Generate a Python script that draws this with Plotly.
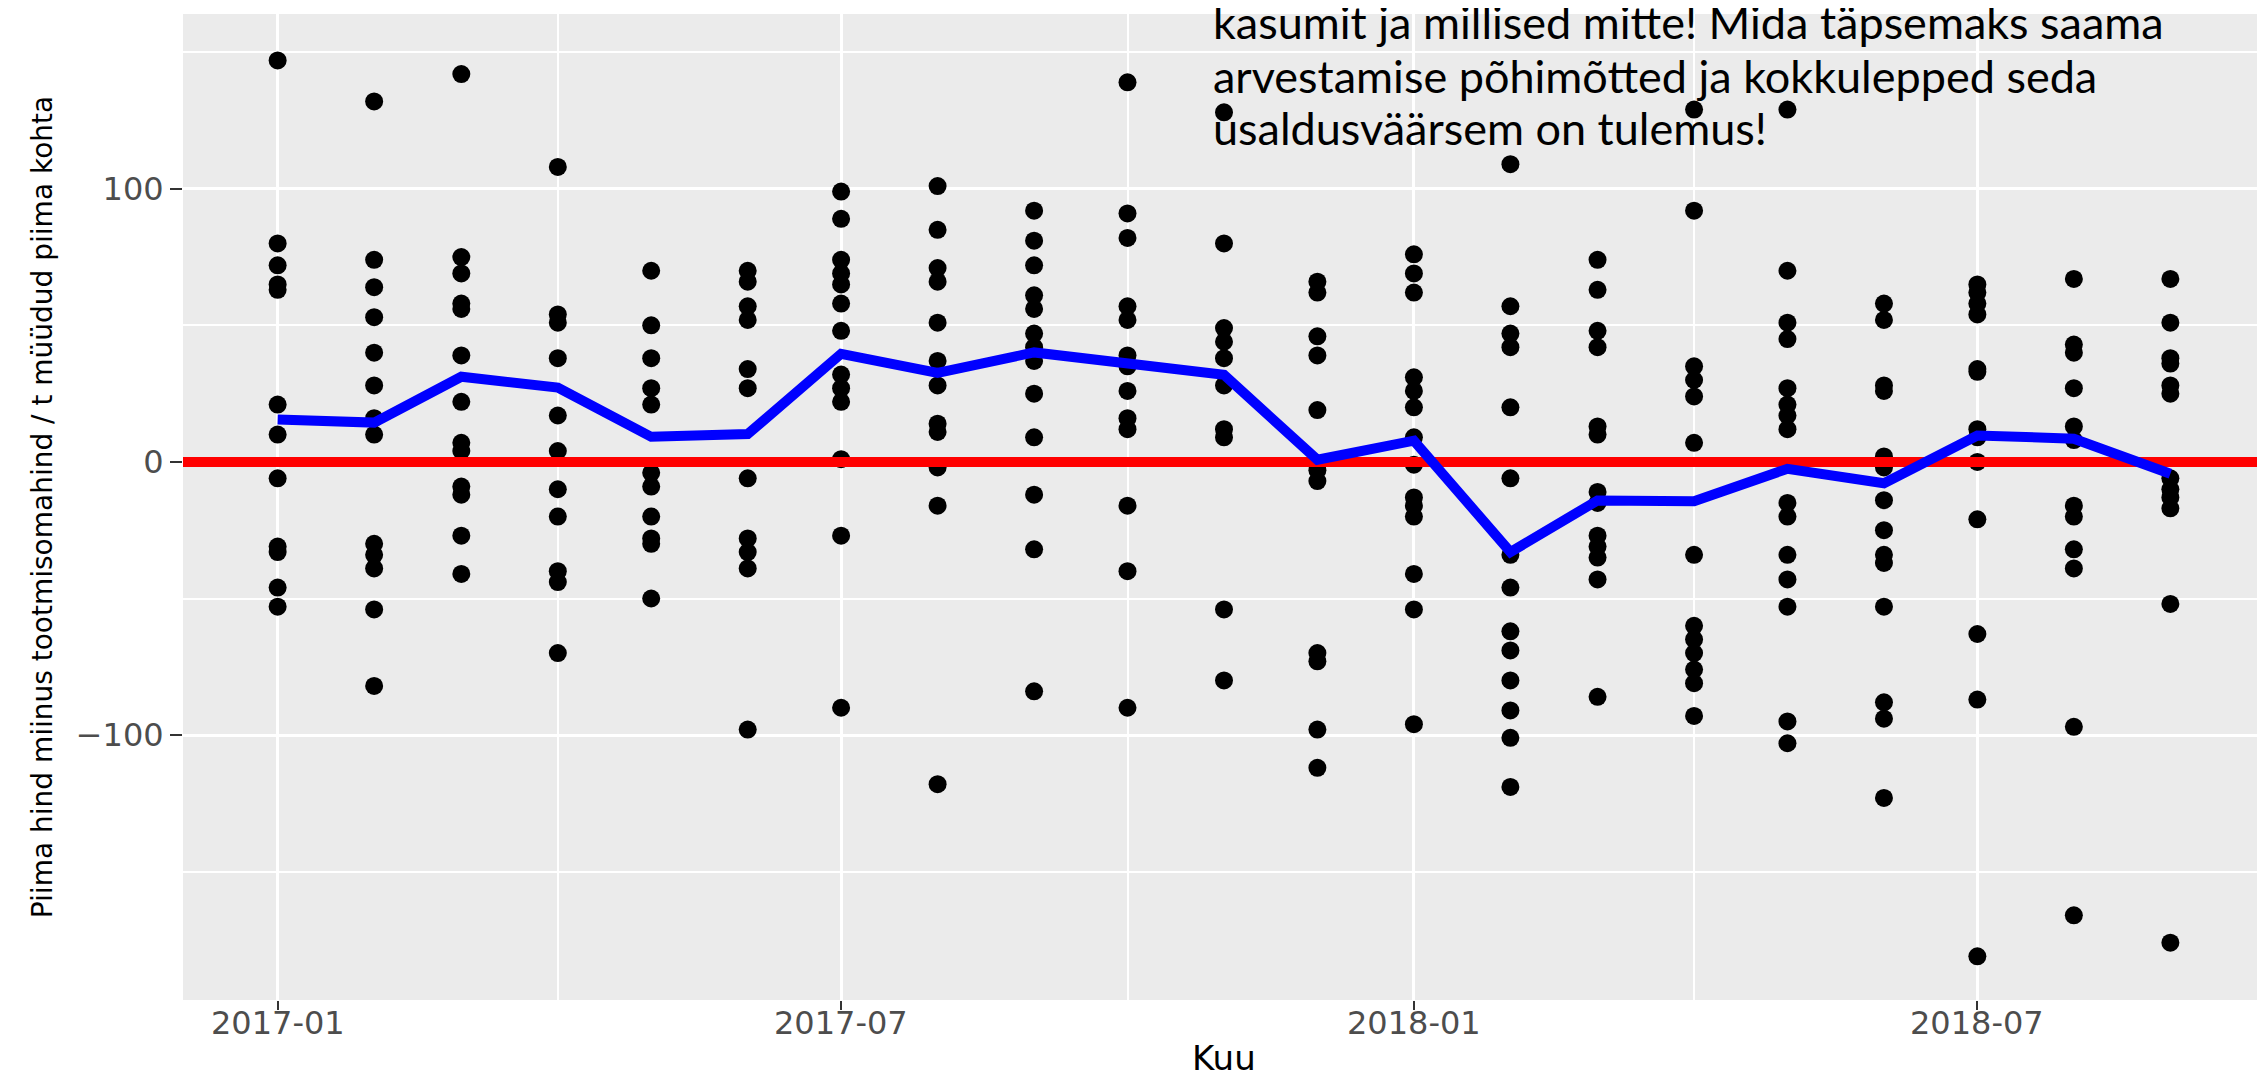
import pandas as pd
import plotly.graph_objects as go

months = ["2017-01-01", "2017-02-01", "2017-03-01", "2017-04-01", "2017-05-01", "2017-06-01",
          "2017-07-01", "2017-08-01", "2017-09-01", "2017-10-01", "2017-11-01", "2017-12-01",
          "2018-01-01", "2018-02-01", "2018-03-01", "2018-04-01", "2018-05-01", "2018-06-01",
          "2018-07-01", "2018-08-01", "2018-09-01"]

values_by_month = [
    [147, 80, 72, 65, 63, 21, 10, -6, -31, -33, -46, -53],
    [132, 74, 64, 53, 40, 28, 16, 10, -30, -34, -39, -54, -82],
    [142, 75, 69, 58, 56, 39, 22, 7, 4, -9, -12, -27, -41],
    [108, 54, 51, 38, 17, 4, -10, -20, -40, -44, -70],
    [70, 50, 38, 27, 21, -4, -9, -20, -28, -30, -50],
    [70, 66, 57, 52, 34, 27, -6, -28, -33, -39, -98],
    [99, 89, 74, 69, 65, 58, 48, 32, 27, 22, 1, -27, -90],
    [101, 85, 71, 66, 51, 37, 28, 14, 11, -2, -16, -118],
    [92, 81, 72, 61, 56, 47, 42, 37, 25, 9, -12, -32, -84],
    [139, 91, 82, 57, 52, 39, 35, 26, 16, 12, -16, -40, -90],
    [128, 80, 49, 44, 38, 28, 12, 9, -54, -80],
    [66, 62, 46, 39, 19, -3, -7, -70, -73, -98, -112],
    [76, 69, 62, 31, 26, 20, 9, -1, -13, -16, -20, -41, -54, -96],
    [109, 57, 47, 42, 20, -6, -34, -46, -62, -69, -80, -91, -101, -119],
    [74, 63, 48, 42, 13, 10, -11, -15, -27, -31, -35, -43, -86],
    [129, 92, 35, 30, 24, 7, -34, -60, -65, -70, -76, -81, -93],
    [129, 70, 51, 45, 27, 21, 17, 12, -15, -20, -34, -43, -53, -95, -103],
    [58, 52, 28, 26, 2, -2, -14, -25, -34, -37, -53, -88, -94, -123],
    [65, 62, 58, 54, 34, 33, 12, 9, 0, -21, -63, -87, -181],
    [67, 43, 40, 27, 13, 8, -16, -20, -32, -39, -97, -166],
    [67, 51, 38, 36, 28, 25, -6, -10, -13, -17, -52, -176],
]

mean_line = [15.5, 14.4, 31.2, 27.2, 9.2, 10.2, 39.6, 32.6, 40.1, 36.3, 31.9, 0.8,
             7.8, -33.0, -14.1, -14.4, -2.5, -7.8, 9.7, 8.5, -4.3]

y_ticks = [-100, 0, 100]
x_tick_dates = ["2017-01-01", "2017-07-01", "2018-01-01", "2018-07-01"]
x_tick_labels = ["2017-01", "2017-07", "2018-01", "2018-07"]

note_lines = ["kasumit ja millised mitte! Mida täpsemaks saama",
              "arvestamise põhimõtted ja kokkulepped seda",
              "usaldusväärsem on tulemus!"]

y_title = "Piima hind miinus tootmisomahind / t müüdud piima kohta"
x_title = "Kuu"

# figure geometry (pixels)
W, H = 2265, 1078
PL, PR, PT, PB = 175, 2257, 6, 992
ph = PB - PT

def paper_y(py):
    return (PB - py) / ph

# expand like ggplot (5%)
dates = pd.to_datetime(months)
span = dates.max() - dates.min()
x_lo = dates.min() - span * 0.05
x_hi = dates.max() + span * 0.05

pts_x, pts_y = [], []
for m, vals in zip(months, values_by_month):
    for v in vals:
        pts_x.append(m)
        pts_y.append(v)

fig = go.Figure()
fig.add_trace(go.Scatter(x=pts_x, y=pts_y, mode="markers",
                         marker=dict(color="black", size=18, line=dict(width=0)),
                         showlegend=False, hoverinfo="x+y"))
fig.add_trace(go.Scatter(x=[x_lo, x_hi], y=[0, 0], mode="lines",
                         line=dict(color="#FF0000", width=10), showlegend=False, hoverinfo="skip"))
fig.add_trace(go.Scatter(x=months, y=mean_line, mode="lines",
                         line=dict(color="#0000FF", width=10), showlegend=False))

tick_font = dict(family="DejaVu Sans", size=32, color="#4D4D4D")

annotations = []
# x tick labels
for d, lab in zip(x_tick_dates, x_tick_labels):
    annotations.append(dict(text=lab, xref="x", yref="paper", x=d, y=paper_y(1015),
                            xanchor="center", yanchor="middle", showarrow=False, font=tick_font))
# x axis title
annotations.append(dict(text=x_title, xref="paper", yref="paper", x=0.5, y=paper_y(1050),
                        xanchor="center", yanchor="middle", showarrow=False,
                        font=dict(family="DejaVu Sans", size=34, color="black")))
# overlay note, one line per annotation
note_fs = 45
for i, line in enumerate(note_lines):
    baseline = 37 + 53 * i
    annotations.append(dict(text=line, xref="paper", yref="paper",
                            x=(1203 - PL) / (PR - PL), y=paper_y(baseline - 0.5 * note_fs),
                            xanchor="left", yanchor="middle", align="left", showarrow=False,
                            font=dict(family="Lato", size=note_fs, color="black")))

fig.update_layout(
    width=W, height=H,
    margin=dict(l=PL, r=W - PR, t=PT, b=H - PB, autoexpand=False),
    paper_bgcolor="white", plot_bgcolor="#EBEBEB",
    xaxis=dict(type="date", range=[x_lo, x_hi], tickvals=x_tick_dates, ticktext=x_tick_labels,
               showticklabels=False,
               ticks="outside", ticklen=9, tickwidth=2, tickcolor="#333333",
               showgrid=True, gridcolor="white", gridwidth=3,
               minor=dict(dtick="M3", tick0="2017-01-01", showgrid=True, gridcolor="white", gridwidth=1.5),
               zeroline=False, showline=False, automargin=False),
    yaxis=dict(range=[-197, 164], tickvals=y_ticks, ticktext=[str(v).replace("-", "\u2212") for v in y_ticks],
               ticks="outside", ticklen=12, tickwidth=2, tickcolor="#333333",
               tickfont=tick_font, showgrid=True, gridcolor="white", gridwidth=3,
               minor=dict(dtick=50, tick0=0, showgrid=True, gridcolor="white", gridwidth=1.5),
               zeroline=False, showline=False, automargin=False,
               title=dict(text=y_title, font=dict(family="DejaVu Sans", size=28, color="black"), standoff=14)),
    annotations=annotations,
)

fig.write_html("out.html")
